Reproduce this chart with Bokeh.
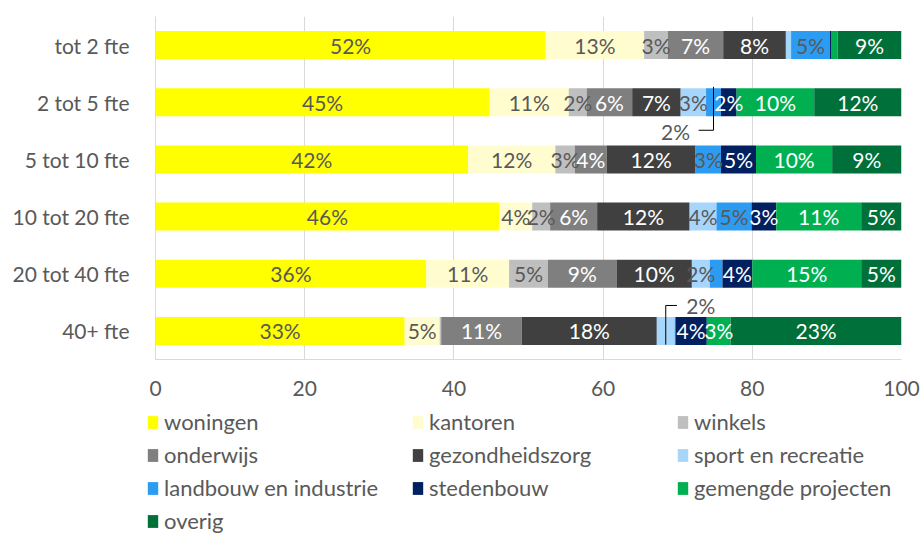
from bokeh.plotting import figure
from bokeh.layouts import column
from bokeh.models import ColumnDataSource, Legend, LegendItem, FactorRange, Range1d, FixedTicker
from bokeh.core.properties import value
from bokeh.embed import file_html
from bokeh.resources import INLINE

categories = ["tot 2 fte", "2 tot 5 fte", "5 tot 10 fte", "10 tot 20 fte", "20 tot 40 fte", "40+ fte"]
series = ["woningen", "kantoren", "winkels", "onderwijs", "gezondheidszorg",
          "sport en recreatie", "landbouw en industrie", "stedenbouw",
          "gemengde projecten", "overig"]

woningen = [52.3, 44.8, 41.9, 46.1, 36.3, 33.4]
kantoren = [13.2, 10.6, 11.7, 4.4, 11.1, 4.7]
winkels = [3.2, 2.4, 2.6, 2.4, 5.2, 0.2]
onderwijs = [7.4, 6.1, 4.3, 6.3, 9.2, 10.8]
gezondheidszorg = [8.4, 6.5, 11.9, 12.4, 10.1, 18.1]
sport_en_recreatie = [0.7, 3.4, 0.0, 3.6, 2.4, 2.4]
landbouw_en_industrie = [5.2, 2.0, 3.4, 4.7, 1.7, 0.1]
stedenbouw = [0.15, 2.1, 4.7, 3.3, 4.0, 4.2]
gemengde_projecten = [0.9, 10.4, 10.2, 11.4, 14.6, 3.2]
overig = [8.55, 11.7, 9.3, 5.4, 5.4, 22.9]

x_ticks = [0, 20, 40, 60, 80, 100]

# labels placed with a leader line instead of inside the bar
callouts = [("2 tot 5 fte", "landbouw en industrie"), ("40+ fte", "sport en recreatie")]

values = [woningen, kantoren, winkels, onderwijs, gezondheidszorg, sport_en_recreatie,
          landbouw_en_industrie, stedenbouw, gemengde_projecten, overig]
colors = ["#FFFF00", "#FFFDCF", "#BFBFBF", "#7F7F7F", "#404040",
          "#A7D6FC", "#2C9CF2", "#002060", "#00B050", "#00703A"]
label_colors = ["#595959", "#595959", "#595959", "#FFFFFF", "#FFFFFF",
                "#595959", "#595959", "#FFFFFF", "#FFFFFF", "#FFFFFF"]
keys = ["s%d" % i for i in range(len(series))]

FONT = value("Lato")
TXT = "#595959"
FS = "21px"

data = {"cat": categories}
for k, v in zip(keys, values):
    data[k] = v
source = ColumnDataSource(data)

p = figure(width=922, height=404, y_range=FactorRange(*reversed(categories)),
           x_range=Range1d(0, 100), output_backend="svg", toolbar_location=None,
           min_border_left=155, min_border_right=21, min_border_top=16, min_border_bottom=45)
p.frame_align = False
p.outline_line_color = None
p.background_fill_color = None
p.border_fill_color = None

p.hbar_stack(keys, y="cat", height=0.49, source=source, fill_color=colors, line_color=None)

# in-bar labels
lx, ly, lt, lc = [], [], [], []
n = len(categories)
for ci, cat in enumerate(categories):
    cum = 0.0
    for si, s in enumerate(series):
        v = values[si][ci]
        if v >= 1.95 and (cat, s) not in callouts:
            lx.append(cum + v / 2)
            ly.append(cat)
            lt.append("%d%%" % int(v + 0.5))
            lc.append(label_colors[si])
        cum += v
p.text(x="x", y="y", text="t", text_color="c",
       source=ColumnDataSource(dict(x=lx, y=ly, t=lt, c=lc)),
       text_align="center", text_baseline="middle", text_font=FONT, text_font_size=FS)

# callout labels with leader lines
cx, cy, ct = [], [], []
for cat, s in callouts:
    ci = categories.index(cat)
    si = series.index(s)
    start = sum(values[k][ci] for k in range(si))
    v = values[si][ci]
    xc = start + v / 2
    yc = (n - 1 - ci) + 0.5
    if yc > n / 2:   # upper rows: label below the bar
        xs = [xc, xc, xc - 2.0]
        ys = [yc + 0.27, yc - 0.49, yc - 0.49]
        cx.append(xc - 5.1); cy.append(yc - 0.51)
    else:            # lower rows: label above the bar
        xs = [xc, xc, xc + 1.5]
        ys = [yc - 0.24, yc + 0.445, yc + 0.445]
        cx.append(xc + 4.7); cy.append(yc + 0.445)
    ct.append("%d%%" % int(v + 0.5))
    p.line(xs, ys, line_color="black", line_width=1)
p.text(x=cx, y=cy, text=ct, text_color=TXT, text_align="center", text_baseline="middle",
       text_font=FONT, text_font_size=FS)

# axes
p.xaxis.ticker = FixedTicker(ticks=x_ticks)
p.xaxis.axis_line_color = "#D9D9D9"
p.xaxis.major_tick_line_color = None
p.xaxis.minor_tick_line_color = None
p.xaxis.major_label_text_font = "Lato"
p.xaxis.major_label_text_font_size = FS
p.xaxis.major_label_text_color = TXT
p.xaxis.major_label_standoff = 15

p.yaxis.axis_line_color = "#D9D9D9"
p.yaxis.major_tick_line_color = None
p.yaxis.minor_tick_line_color = None
p.yaxis.major_label_text_font = "Lato"
p.yaxis.major_label_text_font_size = FS
p.yaxis.major_label_text_color = TXT
p.yaxis.major_label_standoff = 20

p.xgrid.grid_line_color = "#D9D9D9"
p.xgrid.ticker = FixedTicker(ticks=x_ticks)
p.ygrid.grid_line_color = None

# legend in its own strip below the chart; its bars lie outside the strip's view
pl = figure(width=922, height=130, x_range=Range1d(-2, -1), y_range=FactorRange(*categories),
            output_backend="svg", toolbar_location=None,
            x_axis_location=None, y_axis_location=None,
            min_border_left=0, min_border_right=0, min_border_top=0, min_border_bottom=0)
pl.frame_align = False
pl.outline_line_color = None
pl.background_fill_color = None
pl.border_fill_color = None
pl.xgrid.visible = False
pl.ygrid.visible = False
leg_renderers = pl.hbar_stack(keys, y="cat", height=0.49, source=source,
                              fill_color=colors, line_color=None)
items = [LegendItem(label=s, renderers=[r]) for s, r in zip(series, leg_renderers)]
legend = Legend(items=items, location=(146, -2), orientation="horizontal", ncols=3,
                padding=0, margin=0, spacing=2, glyph_width=13, glyph_height=16,
                label_standoff=5, label_width=245, label_height=31,
                label_text_font="Lato", label_text_font_size="22px", label_text_color=TXT,
                background_fill_alpha=0, border_line_color=None)
pl.add_layout(legend, "center")

layout = column(p, pl, spacing=0)
open("out.html", "w").write(file_html(layout, INLINE))
